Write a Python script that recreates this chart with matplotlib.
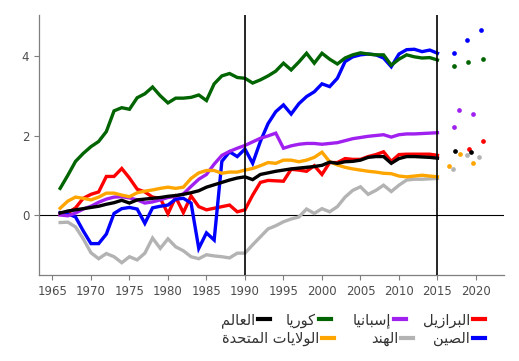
import matplotlib
matplotlib.use('Agg')
import matplotlib.pyplot as plt
from matplotlib.lines import Line2D

# years of the main series
years = list(range(1966, 2016))

brazil = [0.02, 0.05, 0.18, 0.42, 0.52, 0.58, 0.97, 0.97, 1.17, 0.93,
          0.65, 0.58, 0.45, 0.42, 0.03, 0.45, 0.06, 0.48, 0.21, 0.13,
          0.17, 0.21, 0.25, 0.08, 0.13, 0.50, 0.82, 0.87, 0.86, 0.85,
          1.15, 1.13, 1.10, 1.24, 1.02, 1.32, 1.32, 1.42, 1.40, 1.40,
          1.47, 1.52, 1.59, 1.35, 1.52, 1.53, 1.53, 1.53, 1.53, 1.50]
china = [0.06, 0.03, -0.05, -0.40, -0.72, -0.72, -0.48, 0.04, 0.16, 0.19,
         0.15, -0.21, 0.18, 0.22, 0.25, 0.40, 0.42, 0.30, -0.84, -0.45,
         -0.63, 1.35, 1.59, 1.47, 1.66, 1.30, 1.85, 2.30, 2.60, 2.77,
         2.54, 2.80, 2.98, 3.10, 3.30, 3.23, 3.44, 3.86, 3.98, 4.03,
         4.05, 4.03, 3.95, 3.73, 4.05, 4.16, 4.17, 4.11, 4.15, 4.07]
spain = [0.00, -0.02, 0.05, 0.15, 0.22, 0.32, 0.40, 0.45, 0.46, 0.43,
         0.38, 0.30, 0.33, 0.38, 0.44, 0.47, 0.53, 0.72, 0.90, 1.02,
         1.28, 1.50, 1.60, 1.68, 1.75, 1.84, 1.93, 1.99, 2.06, 1.68,
         1.74, 1.78, 1.80, 1.80, 1.78, 1.80, 1.82, 1.87, 1.92, 1.95,
         1.98, 2.00, 2.02, 1.96, 2.02, 2.04, 2.04, 2.05, 2.06, 2.07]
india = [-0.19, -0.18, -0.30, -0.60, -0.95, -1.10, -0.97, -1.05, -1.20, -1.05,
         -1.13, -0.96, -0.58, -0.84, -0.60, -0.80, -0.90, -1.05, -1.10, -1.00,
         -1.03, -1.05, -1.08, -0.96, -0.96, -0.75, -0.55, -0.35, -0.27, -0.17,
         -0.10, -0.05, 0.15, 0.04, 0.16, 0.08, 0.21, 0.45, 0.62, 0.71,
         0.52, 0.62, 0.75, 0.59, 0.75, 0.88, 0.90, 0.90, 0.91, 0.92]
korea = [0.67, 1.00, 1.35, 1.55, 1.72, 1.85, 2.10, 2.62, 2.70, 2.66,
         2.95, 3.05, 3.22, 3.00, 2.82, 2.94, 2.94, 2.96, 3.02, 2.88,
         3.30, 3.50, 3.56, 3.46, 3.44, 3.32, 3.40, 3.50, 3.62, 3.82,
         3.65, 3.85, 4.07, 3.82, 4.07, 3.92, 3.80, 3.95, 4.03, 4.08,
         4.05, 4.03, 4.03, 3.77, 3.92, 4.03, 3.98, 3.95, 3.96, 3.90]
usa = [0.17, 0.35, 0.45, 0.42, 0.38, 0.45, 0.55, 0.55, 0.50, 0.46,
       0.56, 0.60, 0.63, 0.67, 0.70, 0.67, 0.70, 0.92, 1.06, 1.12,
       1.12, 1.05, 1.08, 1.08, 1.13, 1.17, 1.24, 1.32, 1.30, 1.38,
       1.38, 1.34, 1.38, 1.45, 1.58, 1.34, 1.26, 1.20, 1.16, 1.13,
       1.10, 1.08, 1.05, 1.04, 0.98, 0.96, 0.98, 1.00, 0.98, 0.96]
world = [0.05, 0.10, 0.13, 0.16, 0.19, 0.22, 0.27, 0.31, 0.37, 0.30,
         0.38, 0.40, 0.42, 0.44, 0.47, 0.49, 0.52, 0.56, 0.61, 0.70,
         0.76, 0.82, 0.88, 0.93, 0.96, 0.89, 1.02, 1.06, 1.10, 1.13,
         1.16, 1.18, 1.20, 1.22, 1.25, 1.33, 1.30, 1.34, 1.35, 1.38,
         1.45, 1.47, 1.47, 1.30, 1.42, 1.47, 1.47, 1.46, 1.45, 1.43]

# projected points after 2015
brazil_px = [2019.1, 2020.9]
brazil_py = [1.66, 1.86]
china_px = [2017.1, 2018.8, 2020.6]
china_py = [4.08, 4.40, 4.65]
spain_px = [2017.1, 2017.8, 2019.6]
spain_py = [2.21, 2.63, 2.53]
india_px = [2017.0, 2018.8, 2020.4]
india_py = [1.16, 1.50, 1.46]
korea_px = [2017.1, 2019.0, 2020.9]
korea_py = [3.75, 3.85, 3.92]
usa_px = [2016.5, 2017.9, 2019.6]
usa_py = [1.23, 1.53, 1.31]
world_px = [2017.3, 2019.3]
world_py = [1.61, 1.58]

xticks = [1965, 1970, 1975, 1980, 1985, 1990, 1995, 2000, 2005, 2010, 2015, 2020]
yticks = [0, 2, 4]

c_brazil = '#ff0000'
c_china = '#0000ff'
c_spain = '#a020f0'
c_india = '#b3b3b3'
c_korea = '#006400'
c_usa = '#ffa500'
c_world = '#000000'

# --- minimal arabic shaping (matplotlib has no bidi / joining support) ---
FORMS = {  # isolated, final, initial, medial
    'ا': ('\ufe8d', '\ufe8e'), 'إ': ('\ufe87', '\ufe88'),
    'د': ('\ufea9', '\ufeaa'), 'ر': ('\ufead', '\ufeae'),
    'ز': ('\ufeaf', '\ufeb0'), 'و': ('\ufeed', '\ufeee'),
    'ة': ('\ufe93', '\ufe94'),
    'ب': ('\ufe8f', '\ufe90', '\ufe91', '\ufe92'),
    'ت': ('\ufe95', '\ufe96', '\ufe97', '\ufe98'),
    'ح': ('\ufea1', '\ufea2', '\ufea3', '\ufea4'),
    'س': ('\ufeb1', '\ufeb2', '\ufeb3', '\ufeb4'),
    'ص': ('\ufeb9', '\ufeba', '\ufebb', '\ufebc'),
    'ع': ('\ufec9', '\ufeca', '\ufecb', '\ufecc'),
    'ك': ('\ufed9', '\ufeda', '\ufedb', '\ufedc'),
    'ل': ('\ufedd', '\ufede', '\ufedf', '\ufee0'),
    'م': ('\ufee1', '\ufee2', '\ufee3', '\ufee4'),
    'ن': ('\ufee5', '\ufee6', '\ufee7', '\ufee8'),
    'ه': ('\ufee9', '\ufeea', '\ufeeb', '\ufeec'),
    'ي': ('\ufef1', '\ufef2', '\ufef3', '\ufef4'),
    'لا': ('\ufefb', '\ufefc'), 'لإ': ('\ufef9', '\ufefa'),
}


def shape(text):
    units = []
    i = 0
    while i < len(text):
        if text[i] == 'ل' and i + 1 < len(text) and text[i:i + 2] in FORMS:
            units.append(text[i:i + 2])
            i += 2
        else:
            units.append(text[i])
            i += 1
    out = []
    for k, u in enumerate(units):
        if u not in FORMS:
            out.append(u)
            continue
        prev = units[k - 1] if k > 0 else None
        nxt = units[k + 1] if k + 1 < len(units) else None
        jp = prev in FORMS and len(FORMS[prev]) == 4
        jn = len(FORMS[u]) == 4 and nxt in FORMS
        f = FORMS[u]
        if jp and jn:
            out.append(f[3])
        elif jp:
            out.append(f[1])
        elif jn:
            out.append(f[2])
        else:
            out.append(f[0])
    return ''.join(out)[::-1]


fig = plt.figure(figsize=(5.19, 3.61), dpi=100)
ax = fig.add_axes([0.0751, 0.2382, 0.8960, 0.7200])

series = [(india, india_px, india_py, c_india),
          (brazil, brazil_px, brazil_py, c_brazil),
          (china, china_px, china_py, c_china),
          (korea, korea_px, korea_py, c_korea),
          (spain, spain_px, spain_py, c_spain),
          (usa, usa_px, usa_py, c_usa),
          (world, world_px, world_py, c_world)]
for vals, px, py, col in series:
    ax.plot(years, vals, color=col, lw=2.4, solid_joinstyle='miter', zorder=3)
    ax.plot(px, py, 'o', color=col, ms=3.4, mew=0, zorder=3)

ax.axhline(0, color='black', lw=0.8, zorder=2)
ax.axvline(1990, color='black', lw=1.2, zorder=4)
ax.axvline(2015, color='black', lw=1.2, zorder=4)

ax.set_xlim(1963.25, 2023.64)
ax.set_ylim(-1.51, 5.03)
ax.set_xticks(xticks)
ax.set_yticks(yticks)
ax.tick_params(colors='#7f7f7f', labelcolor='#4d4d4d', labelsize=8.5,
               length=3.5, width=0.8)
for s in ['top', 'right']:
    ax.spines[s].set_visible(False)
for s in ['left', 'bottom']:
    ax.spines[s].set_color('#7f7f7f')
    ax.spines[s].set_linewidth(0.9)

# legend, drawn right to left
W, H = 519.0, 361.0
legend_rows = [
    [('البرازيل', c_brazil, 485), ('إسبانيا', c_spain, 406),
     ('كوريا', c_korea, 331), ('العالم', c_world, 270)],
    [('الصين', c_china, 485), ('الهند', c_india, 413),
     ('الولايات المتحدة', c_usa, 334)],
]
row_y = [319, 338]
for row, yy in zip(legend_rows, row_y):
    for label, col, xr in row:
        fig.add_artist(Line2D([(xr - 12) / W, xr / W], [1 - yy / H, 1 - yy / H],
                              color=col, lw=3, transform=fig.transFigure))
        fig.text((xr - 15) / W, 1 - (yy + 1) / H, shape(label), ha='right',
                 va='center', fontsize=10.5, color='#333333',
                 family='DejaVu Sans')

fig.savefig('out.png', dpi=100)
